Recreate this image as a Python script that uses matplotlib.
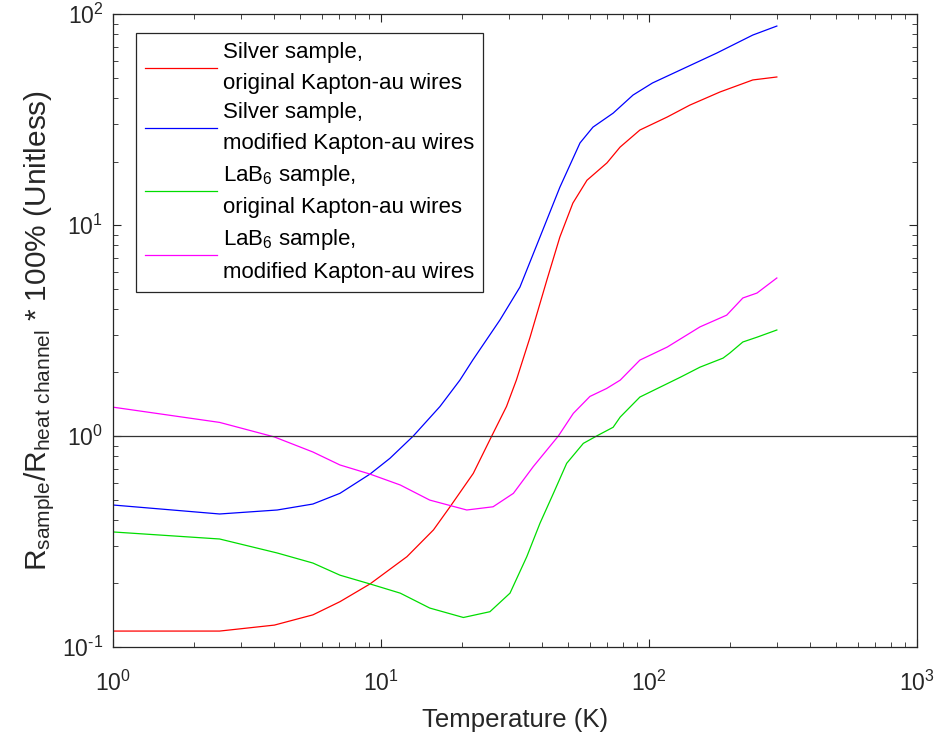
import numpy as np
import matplotlib
matplotlib.use("Agg")
from matplotlib import pyplot as plt
from matplotlib.ticker import LogLocator, NullFormatter, FuncFormatter

plt.rcParams['font.family'] = ['Liberation Sans', 'DejaVu Sans']
plt.rcParams['mathtext.default'] = 'regular'
plt.rcParams['axes.unicode_minus'] = False

# Silver sample, original wires (red)
ag_orig_T = [1.0, 2.5, 4.0, 5.57, 7.03, 9.1, 12.5, 15.7, 18.1, 22.1, 25.9, 29.4, 32.0, 36.0,
             41.6, 46.5, 52.0, 58.7, 69.7, 78.0, 92.5, 117, 142, 184, 244, 300]
ag_orig_R = [0.119, 0.119, 0.127, 0.142, 0.164, 0.199, 0.268, 0.359, 0.462, 0.665, 1.0, 1.38, 1.84, 2.94,
             5.49, 8.77, 12.7, 16.3, 19.7, 23.4, 28.2, 32.5, 37.0, 42.7, 48.7, 50.3]

# Silver sample, modified wires (blue)
ag_mod_T = [1.0, 2.5, 4.1, 5.57, 7.03, 9.1, 10.8, 13.2, 16.6, 19.7, 22.0, 27.8, 33.0, 39.2,
            46.5, 55.3, 61.8, 73.5, 87.2, 103, 131, 179, 244, 300]
ag_mod_R = [0.471, 0.427, 0.446, 0.476, 0.535, 0.66, 0.784, 1.0, 1.38, 1.84, 2.29, 3.55, 5.08, 8.77,
            15.1, 24.5, 29.1, 33.9, 41.3, 47.1, 54.3, 65.3, 79.5, 87.7]

# LaB6 sample, original wires (green)
lab_orig_T = [1.0, 2.5, 4.1, 5.57, 7.03, 9.1, 11.8, 15.2, 20.3, 25.5, 30.3, 35.0, 39.2, 44.0,
              49.3, 56.9, 64.7, 73.5, 78.1, 92.5, 131, 155, 189, 200, 224, 253, 300]
lab_orig_R = [0.351, 0.325, 0.279, 0.250, 0.219, 0.199, 0.180, 0.153, 0.138, 0.147, 0.180, 0.268, 0.386, 0.535,
              0.742, 0.923, 1.01, 1.10, 1.23, 1.53, 1.90, 2.12, 2.34, 2.47, 2.79, 2.94, 3.18]

# LaB6 sample, modified wires (magenta)
lab_mod_T = [1.0, 2.5, 4.0, 5.57, 7.03, 9.1, 11.8, 15.2, 20.9, 26.2, 31.2, 37.0, 45.9, 52.2,
             60.2, 69.5, 78.1, 92.5, 117, 155, 195, 224, 253, 300]
lab_mod_R = [1.37, 1.16, 0.99, 0.84, 0.729, 0.66, 0.586, 0.497, 0.446, 0.462, 0.535, 0.716, 1.0, 1.28,
             1.54, 1.68, 1.84, 2.29, 2.64, 3.29, 3.74, 4.51, 4.76, 5.61]

labels = ['Silver sample,\noriginal Kapton-au wires',
          'Silver sample,\nmodified Kapton-au wires',
          'LaB$_6$ sample,\noriginal Kapton-au wires',
          'LaB$_6$ sample,\nmodified Kapton-au wires']
colors = ['#ff0000', '#0000ff', '#00dd00', '#ff00ff']


def pow10(v, pos):
    e = int(round(np.log10(v)))
    return '10$^{%s}$' % str(e).replace('-', '\u2010')


fig = plt.figure(figsize=(9.4, 7.38), dpi=100)
ax = fig.add_axes([0.1202, 0.1233, 0.8553, 0.8577])

series = [(ag_orig_T, ag_orig_R), (ag_mod_T, ag_mod_R), (lab_orig_T, lab_orig_R), (lab_mod_T, lab_mod_R)]
for (t, r), c, lab in zip(series, colors, labels):
    ax.plot(t, r, color=c, lw=0.9, label=lab)

ax.axhline(1.0, color='#333333', lw=0.9)

ax.set_xscale('log')
ax.set_yscale('log')
ax.set_xlim(1, 1000)
ax.set_ylim(0.1, 100)

for a in (ax.xaxis, ax.yaxis):
    a.set_major_locator(LogLocator(base=10, numticks=10))
    a.set_minor_locator(LogLocator(base=10, subs=np.arange(2, 10), numticks=10))
    a.set_major_formatter(FuncFormatter(pow10))
    a.set_minor_formatter(NullFormatter())

ax.tick_params(which='both', direction='in', top=True, right=True, labelsize=16.5, colors='#262626')
ax.tick_params(which='major', length=6, width=0.8)
ax.tick_params(axis='x', which='major', pad=17)
ax.tick_params(axis='y', which='major', pad=7)
ax.tick_params(which='minor', length=3.5, width=0.6)
for s in ax.spines.values():
    s.set_color('#262626')
    s.set_linewidth(0.9)

ax.set_xlabel('Temperature (K)', fontsize=18.5, color='#262626', labelpad=9)
ax.set_ylabel('R$_{sample}$/R$_{heat\\ channel}$ * 100% (Unitless)', fontsize=21.5, color='#262626', labelpad=4)

leg = ax.legend(loc='upper left', bbox_to_anchor=(0.0286, 0.970), borderaxespad=0,
                fontsize=16, fancybox=False, framealpha=1, edgecolor='#262626',
                handlelength=3.25, handletextpad=0.28, labelspacing=0.4, borderpad=0.4)
leg.get_frame().set_linewidth(0.9)
for t in leg.get_texts():
    t.set_linespacing(1.6)

fig.savefig('out.png', dpi=100)
